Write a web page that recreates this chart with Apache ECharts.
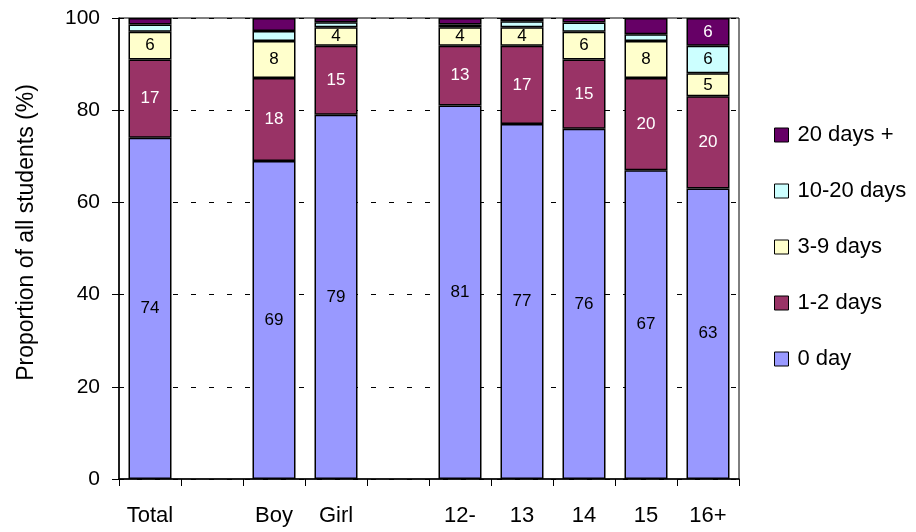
<!DOCTYPE html>
<html>
<head>
<meta charset="utf-8">
<script src="https://cdn.jsdelivr.net/npm/echarts@6/dist/echarts.min.js"></script>
<style>
  html, body { margin: 0; padding: 0; background: #fff; }
  #chart { width: 916px; height: 532px; }
</style>
</head>
<body>
<div id="chart"></div>
<script>
// categories (blank slots are the gaps between groups)
var categories = ['Total', '', 'Boy', 'Girl', '', '12-', '13', '14', '15', '16+'];

// percentages per absence group
var zeroDay   = [74, null, 69, 79, null, 81, 77, 76, 67, 63];
var oneTwo    = [17, null, 18, 15, null, 13, 17, 15, 20, 20];
var threeNine = [6, null, 8, 4, null, 4, 4, 6, 8, 5];
var tenTwenty = [1.6, null, 2.2, 1.1, null, 0.6, 1.3, 2, 1.5, 6];
var twentyPlus = [1.4, null, 2.8, 0.9, null, 1.4, 0.7, 1, 3.5, 6];

var yTicks = [0, 20, 40, 60, 80, 100];

var myChart = echarts.init(document.getElementById('chart'));

function makeSeries(name, data, color, labelColor) {
  return {
    name: name,
    type: 'bar',
    stack: 'all',
    data: data,
    barWidth: 43,
    itemStyle: {
      color: color,
      borderColor: '#000',
      borderWidth: 1.5
    },
    label: {
      show: true,
      position: 'inside',
      color: labelColor,
      fontFamily: 'Liberation Sans',
      fontSize: 17,
      formatter: function (p) {
        return p.value >= 4 ? Math.round(p.value) : '';
      }
    },
    emphasis: { disabled: true }
  };
}

var option = {
  animation: false,
  grid: {
    left: 119,
    right: 177,
    top: 18,
    bottom: 53,
    show: true,
    borderColor: '#000',
    borderWidth: 1
  },
  legend: {
    orient: 'vertical',
    left: 769,
    top: 119,
    itemGap: 34,
    itemWidth: 14,
    itemHeight: 14,
    icon: 'rect',
    itemStyle: { borderColor: '#000', borderWidth: 1 },
    textStyle: {
      fontFamily: 'Liberation Sans',
      fontSize: 22,
      color: '#000',
      padding: [0, 0, 0, 4]
    },
    data: ['20 days +', '10-20 days', '3-9 days', '1-2 days', '0 day']
  },
  xAxis: {
    type: 'category',
    data: categories,
    boundaryGap: true,
    axisLine: { lineStyle: { color: '#000', width: 1.5 } },
    axisTick: {
      show: true,
      length: 7,
      alignWithLabel: false,
      interval: 0,
      lineStyle: { color: '#000', width: 1 }
    },
    axisLabel: {
      interval: 0,
      margin: 26,
      color: '#000',
      fontFamily: 'Liberation Sans',
      fontSize: 22
    }
  },
  yAxis: {
    type: 'value',
    min: yTicks[0],
    max: yTicks[yTicks.length - 1],
    interval: 20,
    name: 'Proportion of all students (%)',
    nameLocation: 'middle',
    nameGap: 81,
    nameTextStyle: {
      fontFamily: 'Liberation Sans',
      fontSize: 23,
      color: '#000',
      padding: [0, 0, 0, 32]
    },
    axisLine: { show: true, lineStyle: { color: '#000', width: 1.5 } },
    axisTick: { show: true, inside: false, length: 7, lineStyle: { color: '#000' } },
    axisLabel: {
      margin: 19,
      color: '#000',
      fontFamily: 'Liberation Sans',
      fontSize: 21
    },
    splitLine: {
      show: true,
      lineStyle: { color: '#000', width: 1, type: [5, 13] }
    }
  },
  series: [
    makeSeries('0 day', zeroDay, '#9999FF', '#000'),
    makeSeries('1-2 days', oneTwo, '#993366', '#fff'),
    makeSeries('3-9 days', threeNine, '#FFFFCC', '#000'),
    makeSeries('10-20 days', tenTwenty, '#CCFFFF', '#000'),
    makeSeries('20 days +', twentyPlus, '#660066', '#fff')
  ]
};

myChart.setOption(option);
</script>
</body>
</html>
